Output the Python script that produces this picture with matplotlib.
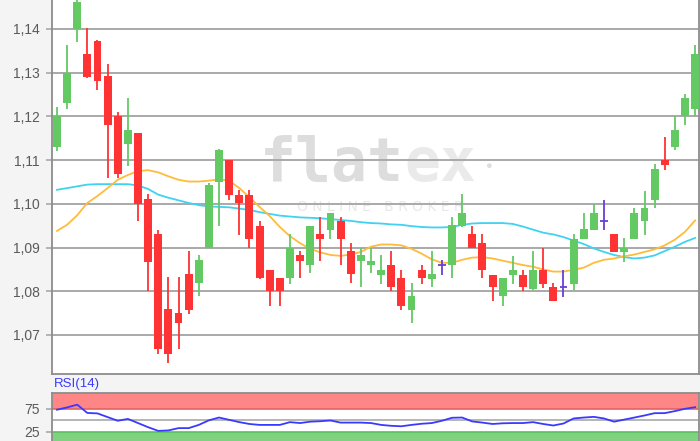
import numpy as np
import matplotlib
matplotlib.use('Agg')
import matplotlib.pyplot as plt

# daily candles
opens = [1.1129, 1.1231, 1.1400, 1.1343, 1.1372, 1.1292, 1.1200, 1.1138, 1.1161, 1.1010,
         1.0930, 1.0759, 1.0750, 1.0840, 1.0818, 1.0900, 1.1050, 1.1100, 1.1021, 1.1021,
         1.0950, 1.0848, 1.0830, 1.0830, 1.0883, 1.0860, 1.0931, 1.0941, 1.0961, 1.0891,
         1.0869, 1.0860, 1.0838, 1.0861, 1.0830, 1.0758, 1.0849, 1.0829, 1.0861, 1.0860,
         1.0949, 1.0931, 1.0911, 1.0838, 1.0789, 1.0838, 1.0838, 1.0806, 1.0849, 1.0809,
         1.0809, 1.0817, 1.0919, 1.0941, 1.0961, 1.0931, 1.0889, 1.0919, 1.0960, 1.1008,
         1.1100, 1.1131, 1.1200, 1.1218]
highs = [1.1221, 1.1363, 1.1480, 1.1402, 1.1375, 1.1321, 1.1211, 1.1241, 1.1161, 1.1022,
         1.0941, 1.0833, 1.0833, 1.0891, 1.0883, 1.1048, 1.1125, 1.1100, 1.1031, 1.1031,
         1.0961, 1.0848, 1.0830, 1.0931, 1.0892, 1.0950, 1.0970, 1.0980, 1.0970, 1.0911,
         1.0900, 1.0900, 1.0883, 1.0892, 1.0849, 1.0819, 1.0861, 1.0892, 1.0872, 1.0970,
         1.1022, 1.0949, 1.0931, 1.0838, 1.0830, 1.0881, 1.0849, 1.0891, 1.0900, 1.0819,
         1.0849, 1.0931, 1.0980, 1.1000, 1.1008, 1.0931, 1.0921, 1.0991, 1.1030, 1.1090,
         1.1152, 1.1200, 1.1251, 1.1363]
lows = [1.1120, 1.1218, 1.1370, 1.1288, 1.1260, 1.1058, 1.1058, 1.1087, 1.0960, 1.0800,
        1.0657, 1.0635, 1.0667, 1.0748, 1.0788, 1.0900, 1.0949, 1.1008, 1.0929, 1.0900,
        1.0828, 1.0767, 1.0767, 1.0817, 1.0830, 1.0841, 1.0869, 1.0919, 1.0860, 1.0818,
        1.0809, 1.0841, 1.0817, 1.0801, 1.0758, 1.0728, 1.0817, 1.0809, 1.0838, 1.0830,
        1.0947, 1.0900, 1.0830, 1.0778, 1.0767, 1.0817, 1.0801, 1.0803, 1.0808, 1.0778,
        1.0787, 1.0802, 1.0919, 1.0941, 1.0941, 1.0889, 1.0867, 1.0919, 1.0929, 1.0990,
        1.1078, 1.1123, 1.1180, 1.1202]
closes = [1.1200, 1.1300, 1.1461, 1.1290, 1.1281, 1.1180, 1.1069, 1.1170, 1.1000, 1.0867,
          1.0667, 1.0656, 1.0727, 1.0757, 1.0871, 1.1042, 1.1123, 1.1020, 1.1001, 1.0919,
          1.0830, 1.0800, 1.0800, 1.0900, 1.0869, 1.0950, 1.0919, 1.0980, 1.0919, 1.0839,
          1.0883, 1.0869, 1.0849, 1.0809, 1.0767, 1.0790, 1.0830, 1.0840, 1.0861, 1.0952,
          1.0980, 1.0900, 1.0848, 1.0809, 1.0830, 1.0849, 1.0809, 1.0849, 1.0817, 1.0778,
          1.0809, 1.0920, 1.0942, 1.0980, 1.0961, 1.0889, 1.0900, 1.0980, 1.0991, 1.1080,
          1.1088, 1.1170, 1.1241, 1.1342]

# moving averages as drawn (orange = short, cyan = long)
ma_short = [1.0938, 1.0952, 1.0974, 1.1002, 1.1018, 1.1036, 1.1055, 1.1066, 1.1075, 1.1077,
            1.1072, 1.1063, 1.1055, 1.1051, 1.1051, 1.1053, 1.1056, 1.1053, 1.1036, 1.1015,
            1.0993, 1.0972, 1.0947, 1.0926, 1.0910, 1.0897, 1.0889, 1.0883, 1.0881, 1.0884,
            1.0890, 1.0902, 1.0907, 1.0907, 1.0905, 1.0897, 1.0886, 1.0873, 1.0865, 1.0865,
            1.0872, 1.0877, 1.0878, 1.0875, 1.0870, 1.0865, 1.0860, 1.0856, 1.0850, 1.0845,
            1.0845, 1.0849, 1.0854, 1.0865, 1.0872, 1.0875, 1.0880, 1.0884, 1.0890, 1.0896,
            1.0905, 1.0918, 1.0936, 1.0962]
ma_long = [1.1032, 1.1036, 1.1040, 1.1044, 1.1045, 1.1045, 1.1045, 1.1045, 1.1042, 1.1034,
           1.1021, 1.1014, 1.1008, 1.1002, 1.0997, 1.0994, 1.0993, 1.0992, 1.0989, 1.0986,
           1.0981, 1.0977, 1.0973, 1.0971, 1.0969, 1.0968, 1.0967, 1.0965, 1.0963, 1.0961,
           1.0958, 1.0956, 1.0955, 1.0953, 1.0952, 1.0949, 1.0947, 1.0946, 1.0946, 1.0947,
           1.0952, 1.0955, 1.0956, 1.0956, 1.0956, 1.0954, 1.0948, 1.0941, 1.0934, 1.0930,
           1.0924, 1.0916, 1.0908, 1.0898, 1.0890, 1.0883, 1.0878, 1.0875, 1.0877, 1.0882,
           1.0892, 1.0902, 1.0913, 1.0922]

rsi = [73, 78, 84, 66, 65, 57, 49, 53, 44, 35,
       27, 28, 33, 33, 40, 50, 56, 51, 46, 42,
       40, 40, 40, 46, 44, 47, 48, 49.6, 45, 45,
       45, 44, 40, 38, 37, 40, 42.5, 44, 49, 55.5,
       56, 47.5, 45, 42, 43.5, 44, 44, 46, 42, 38.7,
       43, 54, 56, 57.5, 54, 47, 51.5, 56, 60.5, 65.5,
       65.6, 70, 75, 78.5]

price_ticks = [1.07, 1.08, 1.09, 1.10, 1.11, 1.12, 1.13, 1.14]
price_labels = ['1,07', '1,08', '1,09', '1,10', '1,11', '1,12', '1,13', '1,14']
rsi_ticks = [25, 75]

GREEN = '#63c963'
RED = '#ff3333'
DOJI = '#6a3fd6'
GRID = '#a9a9a9'
TICKC = '#5a5a5a'

plt.rcParams['font.family'] = ['Liberation Sans', 'DejaVu Sans']

W, H = 700, 441
fig = plt.figure(figsize=(W / 100, H / 100), dpi=100, facecolor='#f4f4f4')

# main price panel: pixel box x 52..699, y 0..374
ax = fig.add_axes([52 / W, (H - 374) / H, 647 / W, 374 / H])
ax.set_facecolor('white')
x = np.arange(len(opens))

o = np.array(opens)
c = np.array(closes)
hi = np.array(highs)
lo = np.array(lows)
cols = [GREEN if cc > oo else (RED if cc < oo else DOJI) for oo, cc in zip(o, c)]

ax.vlines(x, lo, hi, colors=cols, lw=1.3, zorder=3)
body = np.abs(c - o)
bw = 0.78
ax.bar(x, body, bottom=np.minimum(o, c), width=bw, color=cols, linewidth=0, zorder=4)
doji = c == o
ax.hlines(o[doji], x[doji] - bw / 2, x[doji] + bw / 2, colors=DOJI, lw=1.3, zorder=4)

ax.plot(x, ma_long, color='#3fd2f2', lw=1.3, zorder=2)
ax.plot(x, ma_short, color='#ffbb3a', lw=1.3, zorder=2)

ax.set_xlim(-0.49, 63.38)
ax.set_ylim(1.06107, 1.14663)
ax.set_yticks(price_ticks)
ax.set_yticklabels(price_labels)
ax.set_xticks([])
ax.grid(axis='y', color=GRID, lw=1.4, zorder=1)
ax.tick_params(axis='y', length=4, width=1.2, color=GRID, pad=5, labelsize=10, labelcolor=TICKC)
for side in ['left', 'bottom', 'right']:
    ax.spines[side].set_color('#8c8c8c')
    ax.spines[side].set_linewidth(1.3)
ax.spines['top'].set_visible(False)

# watermark
ax.text(0.544, 0.559, 'flat', transform=ax.transAxes, fontsize=43, family='DejaVu Sans Mono',
        fontweight='bold', color='#dddddd', ha='right', va='center', zorder=0)
ax.text(0.544, 0.559, 'ex', transform=ax.transAxes, fontsize=43, family='DejaVu Sans Mono',
        fontweight='bold', color='#eaeaea', ha='left', va='center', zorder=0)
ax.text(0.674, 0.556, '\u25cf', transform=ax.transAxes, fontsize=8,
        color='#dedede', ha='center', va='center', zorder=0)
ax.text(0.507, 0.447, 'O N L I N E   B R O K E R', transform=ax.transAxes, fontsize=10,
        family='DejaVu Sans', color='#e8e8e8', ha='center', va='center', zorder=0)

# RSI panel: top at y=392.7, runs past bottom edge
rax = fig.add_axes([52 / W, (H - 443.3) / H, 647 / W, 50.6 / H])
rax.set_facecolor('white')
rax.set_xlim(-0.49, 63.38)
rax.set_ylim(0, 110)
rax.axhspan(75, 110, color='#ff8686', lw=0, zorder=0)
rax.axhspan(0, 25, color='#7fd27f', lw=0, zorder=0)
rax.axhline(75, color='#e06464', lw=1.2, zorder=1)
rax.axhline(25, color='#5cbf5c', lw=1.2, zorder=1)
rax.axhline(50, color=GRID, lw=1.2, zorder=1)
rax.plot(x, rsi, color='#3a3aff', lw=1.3, zorder=3)
rax.set_yticks(rsi_ticks)
rax.set_yticklabels([str(t) for t in rsi_ticks])
rax.set_xticks([])
rax.tick_params(axis='y', length=4, width=1.2, color=GRID, pad=5, labelsize=10, labelcolor=TICKC)
for side in ['left', 'top', 'right']:
    rax.spines[side].set_color('#8c8c8c')
    rax.spines[side].set_linewidth(1.3)

fig.text(54 / W, (H - 384) / H, 'RSI(14)', color='#3a3aff', fontsize=9.5, ha='left', va='center')

fig.savefig('out.png', dpi=100, facecolor=fig.get_facecolor())
